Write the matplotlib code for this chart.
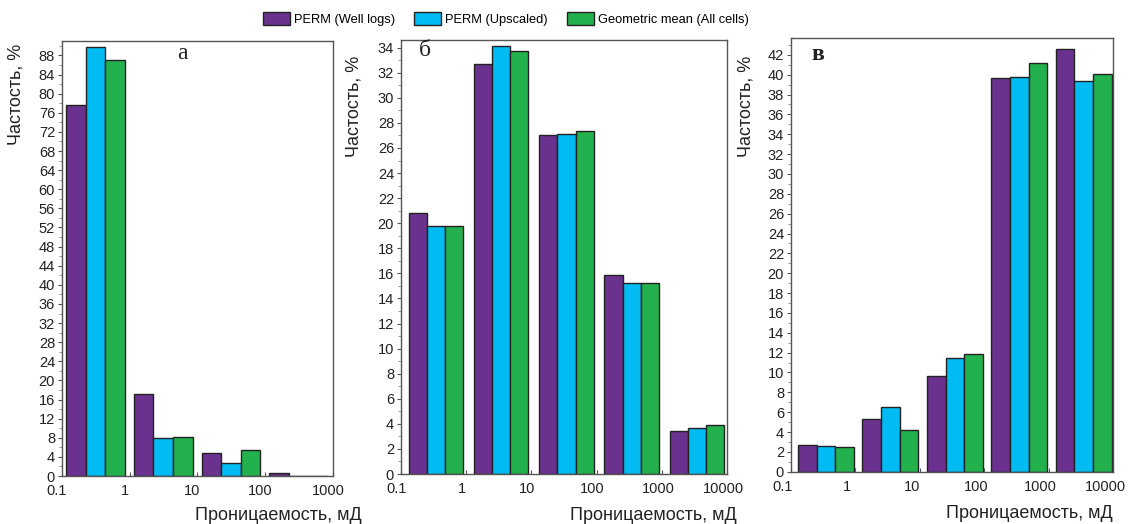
import numpy as np
import matplotlib
matplotlib.use("Agg")
import matplotlib.pyplot as plt
import matplotlib.transforms as mtransforms
from matplotlib.patches import Patch
from matplotlib.ticker import MultipleLocator

plt.rcParams["font.family"] = ["Liberation Sans", "DejaVu Sans"]

series = ["PERM (Well logs)", "PERM (Upscaled)", "Geometric mean (All cells)"]
colors = ["#6B318F", "#00BCF2", "#22B14C"]

# panel a
labels_a = ["0.1", "1", "10", "100", "1000"]
well_a = [77.6, 17.2, 4.9, 0.6]
upsc_a = [89.8, 7.9, 2.7, 0.0]
geom_a = [87.0, 8.1, 5.4, 0.0]

# panel b
labels_b = ["0.1", "1", "10", "100", "1000", "10000"]
well_b = [20.8, 32.7, 27.0, 15.9, 3.45]
upsc_b = [19.75, 34.15, 27.1, 15.2, 3.65]
geom_b = [19.75, 33.7, 27.35, 15.2, 3.9]

# panel c
labels_c = ["0.1", "1", "10", "100", "1000", "10000"]
well_c = [2.7, 5.3, 9.6, 39.7, 42.6]
upsc_c = [2.55, 6.5, 11.5, 39.8, 39.4]
geom_c = [2.45, 4.2, 11.9, 41.2, 40.1]

panels = [
    dict(rect=[0.0549, 0.0916, 0.2400, 0.8300], labels=labels_a, data=[well_a, upsc_a, geom_a],
         ylim=91.0, major=4, minor=2, margin=0.06, width=0.29, letter="а",
         lx=0.446, ly=0.995, ylab=(-0.137, 0.995), xlab=(1.105, -0.072), shift=-5),
    dict(rect=[0.3552, 0.0954, 0.2888, 0.8280], labels=labels_b, data=[well_b, upsc_b, geom_b],
         ylim=34.6, major=2, minor=1, margin=0.12, width=0.278, letter="б",
         lx=0.074, ly=1.0, ylab=(-0.117, 0.965), xlab=(1.03, -0.076), shift=-4),
    dict(rect=[0.7006, 0.0998, 0.2852, 0.8277], labels=labels_c, data=[well_c, upsc_c, geom_c],
         ylim=43.7, major=2, minor=1, margin=0.11, width=0.29, letter="в",
         lx=0.084, ly=0.985, ylab=(-0.112, 0.96), xlab=(1.0, -0.077), shift=-8),
]

fig = plt.figure(figsize=(11.29, 5.24), dpi=100)

for p in panels:
    ax = fig.add_axes(p["rect"])
    n = len(p["labels"]) - 1
    x = np.arange(n)
    for i, vals in enumerate(p["data"]):
        ax.bar(x + p["margin"] + i * p["width"], vals, width=p["width"], align="edge",
               color=colors[i], edgecolor="#222222", linewidth=1.0)
    ax.set_xlim(0, n)
    ax.set_ylim(0, p["ylim"])
    ax.set_xticks(np.arange(n + 1))
    ax.set_xticklabels(p["labels"])
    ax.yaxis.set_major_locator(MultipleLocator(p["major"]))
    ax.yaxis.set_minor_locator(MultipleLocator(p["minor"]))
    ax.tick_params(axis="y", which="major", length=3, width=0.8, labelsize=10.5,
                   colors="#555555", labelcolor="#222222", pad=2)
    ax.tick_params(axis="y", which="minor", length=2, width=0.6, colors="#888888")
    ax.tick_params(axis="x", length=3, direction="in", width=0.8, labelsize=10.5,
                   colors="#555555", labelcolor="#222222", pad=6)
    offset = mtransforms.ScaledTranslation(p["shift"] / 100, 0, fig.dpi_scale_trans)
    for lab in ax.get_xticklabels():
        lab.set_transform(lab.get_transform() + offset)
    for s in ax.spines.values():
        s.set_color("#555555")
        s.set_linewidth(1.0)
    ax.set_ylabel("Частость, %", fontsize=13, loc="top", color="#222222")
    ax.yaxis.set_label_coords(*p["ylab"])
    ax.set_xlabel("Проницаемость, мД", fontsize=13, loc="right", color="#222222")
    ax.xaxis.set_label_coords(*p["xlab"])
    ax.text(p["lx"], p["ly"], p["letter"], transform=ax.transAxes, ha="center", va="top",
            fontsize=17, family="Liberation Serif", fontweight="bold" if p["letter"] == "в" else "normal",
            color="#222222")

handles = [Patch(facecolor=c, edgecolor="#222222", linewidth=1.0, label=s) for c, s in zip(colors, series)]
fig.legend(handles=handles, loc="center", bbox_to_anchor=(0.448, 0.964), ncol=3, frameon=False,
           fontsize=9.3, handlelength=2.1, handleheight=1.2, handletextpad=0.3, columnspacing=1.5)

fig.savefig("out.png", dpi=100)
